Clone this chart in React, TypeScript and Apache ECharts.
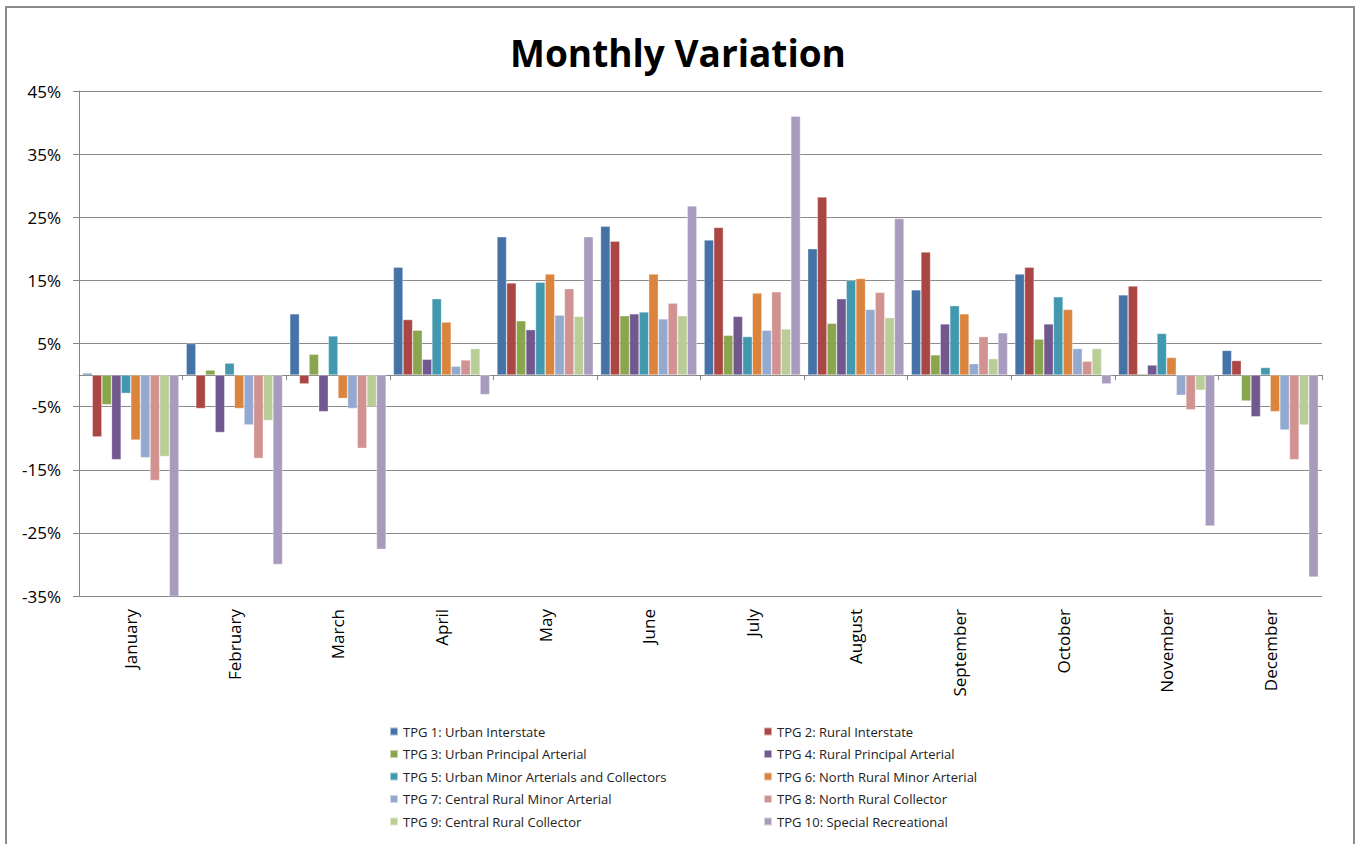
import React, { useEffect, useRef } from "react";
import * as echarts from "echarts";

const months = ["January", "February", "March", "April", "May", "June", "July", "August", "September", "October", "November", "December"];

const seriesNames = [
  "TPG 1: Urban Interstate",
  "TPG 2: Rural Interstate",
  "TPG 3: Urban Principal Arterial",
  "TPG 4: Rural Principal Arterial",
  "TPG 5: Urban Minor Arterials and Collectors",
  "TPG 6: North Rural Minor Arterial",
  "TPG 7: Central Rural Minor Arterial",
  "TPG 8: North Rural Collector",
  "TPG 9: Central Rural Collector",
  "TPG 10: Special Recreational",
];

const colors = ["#4572A7", "#AA4643", "#89A54E", "#71588F", "#4198AF", "#DB843D", "#93A9CF", "#D19392", "#B9CD96", "#A99BBD"];

const tpg1 = [0.3, 5.0, 9.7, 17.1, 21.9, 23.6, 21.4, 20.0, 13.5, 16.0, 12.7, 3.9];
const tpg2 = [-9.8, -5.3, -1.4, 8.8, 14.6, 21.2, 23.4, 28.2, 19.5, 17.1, 14.1, 2.3];
const tpg3 = [-4.7, 0.8, 3.3, 7.1, 8.6, 9.4, 6.3, 8.2, 3.2, 5.7, 0.2, -4.1];
const tpg4 = [-13.4, -9.1, -5.8, 2.5, 7.2, 9.7, 9.3, 12.1, 8.1, 8.1, 1.6, -6.6];
const tpg5 = [-2.9, 1.9, 6.2, 12.1, 14.7, 10.0, 6.1, 15.0, 11.0, 12.4, 6.6, 1.2];
const tpg6 = [-10.3, -5.3, -3.7, 8.4, 16.0, 16.0, 13.0, 15.3, 9.7, 10.4, 2.8, -5.8];
const tpg7 = [-13.1, -7.9, -5.3, 1.4, 9.5, 8.9, 7.1, 10.4, 1.8, 4.2, -3.2, -8.7];
const tpg8 = [-16.7, -13.2, -11.6, 2.4, 13.7, 11.4, 13.2, 13.1, 6.1, 2.2, -5.5, -13.4];
const tpg9 = [-12.9, -7.2, -5.0, 4.2, 9.3, 9.4, 7.3, 9.1, 2.6, 4.2, -2.4, -7.9];
const tpg10 = [-35.4, -30.0, -27.6, -3.1, 21.9, 26.8, 41.0, 24.8, 6.7, -1.4, -23.9, -32.0];

const seriesValues = [tpg1, tpg2, tpg3, tpg4, tpg5, tpg6, tpg7, tpg8, tpg9, tpg10];

const yMin = -35;
const yMax = 45;
const yInterval = 10;

export default function App() {
  const ref = useRef<HTMLDivElement>(null);

  useEffect(() => {
    if (!ref.current) return;
    const chart = echarts.init(ref.current, null, { renderer: "svg" });
    const font = "'Open Sans', sans-serif";
    const legendText = { fontFamily: font, fontSize: 13, color: "#222", lineHeight: 16 };
    const legendBase = {
      orient: "vertical",
      top: 723.5,
      padding: 0,
      itemWidth: 8,
      itemHeight: 8,
      itemGap: 6.5,
      icon: "rect",
      textStyle: legendText,
    };
    chart.setOption({
      animation: false,
      backgroundColor: "#ffffff",
      color: colors,
      title: {
        text: "Monthly Variation",
        left: "center",
        top: 34,
        padding: 0,
        textStyle: { fontFamily: font, fontWeight: "bold", fontSize: 37, color: "#000" },
      },
      grid: { left: 79, right: 34, top: 91, bottom: 248, containLabel: false },
      legend: [
        { ...legendBase, left: 389, data: seriesNames.filter((_, i) => i % 2 === 0) },
        { ...legendBase, left: 763, data: seriesNames.filter((_, i) => i % 2 === 1) },
      ],
      xAxis: [
        {
          type: "category",
          data: months,
          axisLine: { onZero: true, lineStyle: { color: "#868686", width: 1 } },
          axisTick: { show: true, length: 5, lineStyle: { color: "#868686" } },
          axisLabel: { show: false },
          splitLine: { show: false },
        },
        {
          type: "category",
          data: months,
          position: "bottom",
          axisLine: { show: false, onZero: false },
          axisTick: { show: false },
          axisLabel: { rotate: 90, margin: 13, fontFamily: font, fontSize: 17, color: "#000" },
          splitLine: { show: false },
        },
      ],
      yAxis: {
        type: "value",
        min: yMin,
        max: yMax,
        interval: yInterval,
        axisLine: { show: true, lineStyle: { color: "#868686" } },
        axisTick: { show: true, length: 6, lineStyle: { color: "#868686" } },
        axisLabel: {
          formatter: (v: number) => `${v}%`,
          fontFamily: font,
          fontSize: 17,
          color: "#000",
          margin: 18,
        },
        splitLine: { show: true, lineStyle: { color: "#8a8a8a", width: 1 } },
      },
      graphic: [
        {
          type: "rect",
          shape: { x: 6, y: 7, width: 1348, height: 900 },
          style: { fill: "none", stroke: "#8c8c8c", lineWidth: 2 },
          silent: true,
          z: 100,
        },
      ],
      series: seriesNames.map((name, i) => ({
        name,
        type: "bar",
        xAxisIndex: 0,
        data: seriesValues[i],
        barGap: "0%",
        barCategoryGap: "7%",
        itemStyle: { color: colors[i], borderColor: "rgba(255,255,255,0.55)", borderWidth: 0.6 },
      })),
    });
    return () => chart.dispose();
  }, []);

  return (
    <div
      ref={ref}
      style={{ position: "fixed", left: 0, top: 0, width: 1356, height: 844, background: "#fff" }}
    />
  );
}
